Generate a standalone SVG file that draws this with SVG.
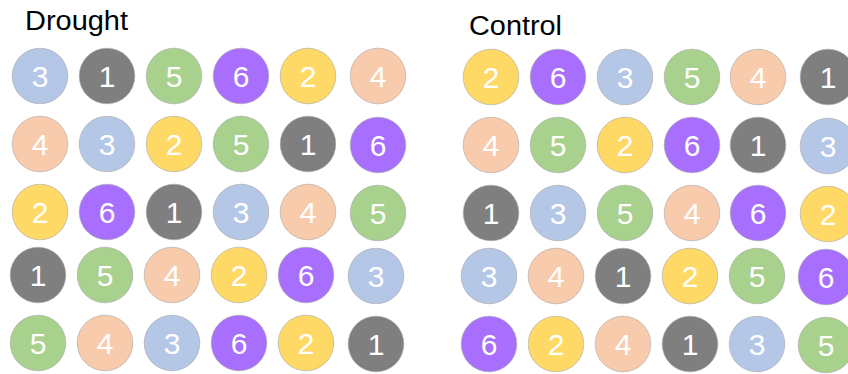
<svg xmlns="http://www.w3.org/2000/svg" width="848" height="374" viewBox="0 0 848 374">
<style>
.t{font-family:"Liberation Sans",Arial,sans-serif;font-size:27px;fill:#000}
circle{stroke:#a6a6a6;stroke-width:0.6}
.n{font-family:"Liberation Sans",Arial,sans-serif;font-size:30px;fill:#fff;text-anchor:middle}
.c1{fill:#7f7f7f}.c2{fill:#ffd966}.c3{fill:#b4c7e7}.c4{fill:#f8cbad}.c5{fill:#a9d18e}.c6{fill:#a86ffe}
</style>
<rect width="848" height="374" fill="#fff"/>
<text class="t" x="25" y="29.5" textLength="103" lengthAdjust="spacingAndGlyphs">Drought</text>
<text class="t" x="469" y="34.5" textLength="93" lengthAdjust="spacingAndGlyphs">Control</text>
<g id="drought">
<g id="d11"><circle class="c3" cx="40" cy="76" r="27.8"/><text class="n" x="40" y="87">3</text></g>
<g id="d12"><circle class="c1" cx="107" cy="76" r="27.8"/><text class="n" x="107" y="87">1</text></g>
<g id="d13"><circle class="c5" cx="174" cy="76" r="27.8"/><text class="n" x="174" y="87">5</text></g>
<g id="d14"><circle class="c6" cx="241" cy="76" r="27.8"/><text class="n" x="241" y="87">6</text></g>
<g id="d15"><circle class="c2" cx="308" cy="76" r="27.8"/><text class="n" x="308" y="87">2</text></g>
<g id="d16"><circle class="c4" cx="378" cy="76" r="27.8"/><text class="n" x="378" y="87">4</text></g>
<g id="d21"><circle class="c4" cx="40" cy="144" r="27.8"/><text class="n" x="40" y="155">4</text></g>
<g id="d22"><circle class="c3" cx="107" cy="144" r="27.8"/><text class="n" x="107" y="155">3</text></g>
<g id="d23"><circle class="c2" cx="174" cy="144" r="27.8"/><text class="n" x="174" y="155">2</text></g>
<g id="d24"><circle class="c5" cx="241" cy="144" r="27.8"/><text class="n" x="241" y="155">5</text></g>
<g id="d25"><circle class="c1" cx="308" cy="144" r="27.8"/><text class="n" x="308" y="155">1</text></g>
<g id="d26"><circle class="c6" cx="378" cy="145" r="27.8"/><text class="n" x="378" y="156">6</text></g>
<g id="d31"><circle class="c2" cx="40" cy="212" r="27.8"/><text class="n" x="40" y="223">2</text></g>
<g id="d32"><circle class="c6" cx="107" cy="212" r="27.8"/><text class="n" x="107" y="223">6</text></g>
<g id="d33"><circle class="c1" cx="174" cy="212" r="27.8"/><text class="n" x="174" y="223">1</text></g>
<g id="d34"><circle class="c3" cx="241" cy="212" r="27.8"/><text class="n" x="241" y="223">3</text></g>
<g id="d35"><circle class="c4" cx="308" cy="212" r="27.8"/><text class="n" x="308" y="223">4</text></g>
<g id="d36"><circle class="c5" cx="378" cy="213" r="27.8"/><text class="n" x="378" y="224">5</text></g>
<g id="d41"><circle class="c1" cx="38" cy="275" r="27.8"/><text class="n" x="38" y="286">1</text></g>
<g id="d42"><circle class="c5" cx="105" cy="275" r="27.8"/><text class="n" x="105" y="286">5</text></g>
<g id="d43"><circle class="c4" cx="172" cy="275" r="27.8"/><text class="n" x="172" y="286">4</text></g>
<g id="d44"><circle class="c2" cx="239" cy="275" r="27.8"/><text class="n" x="239" y="286">2</text></g>
<g id="d45"><circle class="c6" cx="306" cy="275" r="27.8"/><text class="n" x="306" y="286">6</text></g>
<g id="d46"><circle class="c3" cx="376" cy="276" r="27.8"/><text class="n" x="376" y="287">3</text></g>
<g id="d51"><circle class="c5" cx="38" cy="343" r="27.8"/><text class="n" x="38" y="354">5</text></g>
<g id="d52"><circle class="c4" cx="105" cy="343" r="27.8"/><text class="n" x="105" y="354">4</text></g>
<g id="d53"><circle class="c3" cx="172" cy="343" r="27.8"/><text class="n" x="172" y="354">3</text></g>
<g id="d54"><circle class="c6" cx="239" cy="343" r="27.8"/><text class="n" x="239" y="354">6</text></g>
<g id="d55"><circle class="c2" cx="306" cy="343" r="27.8"/><text class="n" x="306" y="354">2</text></g>
<g id="d56"><circle class="c1" cx="376" cy="344" r="27.8"/><text class="n" x="376" y="355">1</text></g>
</g>
<g id="control">
<g id="c11"><circle class="c2" cx="491" cy="77" r="27.8"/><text class="n" x="491" y="88">2</text></g>
<g id="c12"><circle class="c6" cx="558" cy="77" r="27.8"/><text class="n" x="558" y="88">6</text></g>
<g id="c13"><circle class="c3" cx="625" cy="77" r="27.8"/><text class="n" x="625" y="88">3</text></g>
<g id="c14"><circle class="c5" cx="692" cy="77" r="27.8"/><text class="n" x="692" y="88">5</text></g>
<g id="c15"><circle class="c4" cx="758" cy="77" r="27.8"/><text class="n" x="758" y="88">4</text></g>
<g id="c16"><circle class="c1" cx="828" cy="77" r="27.8"/><text class="n" x="828" y="88">1</text></g>
<g id="c21"><circle class="c4" cx="491" cy="145" r="27.8"/><text class="n" x="491" y="156">4</text></g>
<g id="c22"><circle class="c5" cx="558" cy="145" r="27.8"/><text class="n" x="558" y="156">5</text></g>
<g id="c23"><circle class="c2" cx="625" cy="145" r="27.8"/><text class="n" x="625" y="156">2</text></g>
<g id="c24"><circle class="c6" cx="692" cy="145" r="27.8"/><text class="n" x="692" y="156">6</text></g>
<g id="c25"><circle class="c1" cx="758" cy="145" r="27.8"/><text class="n" x="758" y="156">1</text></g>
<g id="c26"><circle class="c3" cx="828" cy="146" r="27.8"/><text class="n" x="828" y="157">3</text></g>
<g id="c31"><circle class="c1" cx="491" cy="213" r="27.8"/><text class="n" x="491" y="224">1</text></g>
<g id="c32"><circle class="c3" cx="558" cy="213" r="27.8"/><text class="n" x="558" y="224">3</text></g>
<g id="c33"><circle class="c5" cx="625" cy="213" r="27.8"/><text class="n" x="625" y="224">5</text></g>
<g id="c34"><circle class="c4" cx="692" cy="213" r="27.8"/><text class="n" x="692" y="224">4</text></g>
<g id="c35"><circle class="c6" cx="758" cy="213" r="27.8"/><text class="n" x="758" y="224">6</text></g>
<g id="c36"><circle class="c2" cx="828" cy="214" r="27.8"/><text class="n" x="828" y="225">2</text></g>
<g id="c41"><circle class="c3" cx="489" cy="276" r="27.8"/><text class="n" x="489" y="287">3</text></g>
<g id="c42"><circle class="c4" cx="556" cy="276" r="27.8"/><text class="n" x="556" y="287">4</text></g>
<g id="c43"><circle class="c1" cx="623" cy="276" r="27.8"/><text class="n" x="623" y="287">1</text></g>
<g id="c44"><circle class="c2" cx="690" cy="276" r="27.8"/><text class="n" x="690" y="287">2</text></g>
<g id="c45"><circle class="c5" cx="757" cy="276" r="27.8"/><text class="n" x="757" y="287">5</text></g>
<g id="c46"><circle class="c6" cx="826" cy="277" r="27.8"/><text class="n" x="826" y="288">6</text></g>
<g id="c51"><circle class="c6" cx="489" cy="344" r="27.8"/><text class="n" x="489" y="355">6</text></g>
<g id="c52"><circle class="c2" cx="556" cy="344" r="27.8"/><text class="n" x="556" y="355">2</text></g>
<g id="c53"><circle class="c4" cx="623" cy="344" r="27.8"/><text class="n" x="623" y="355">4</text></g>
<g id="c54"><circle class="c1" cx="690" cy="344" r="27.8"/><text class="n" x="690" y="355">1</text></g>
<g id="c55"><circle class="c3" cx="757" cy="344" r="27.8"/><text class="n" x="757" y="355">3</text></g>
<g id="c56"><circle class="c5" cx="826" cy="345" r="27.8"/><text class="n" x="826" y="356">5</text></g>
</g>
<g id="connectors"/>
</svg>
